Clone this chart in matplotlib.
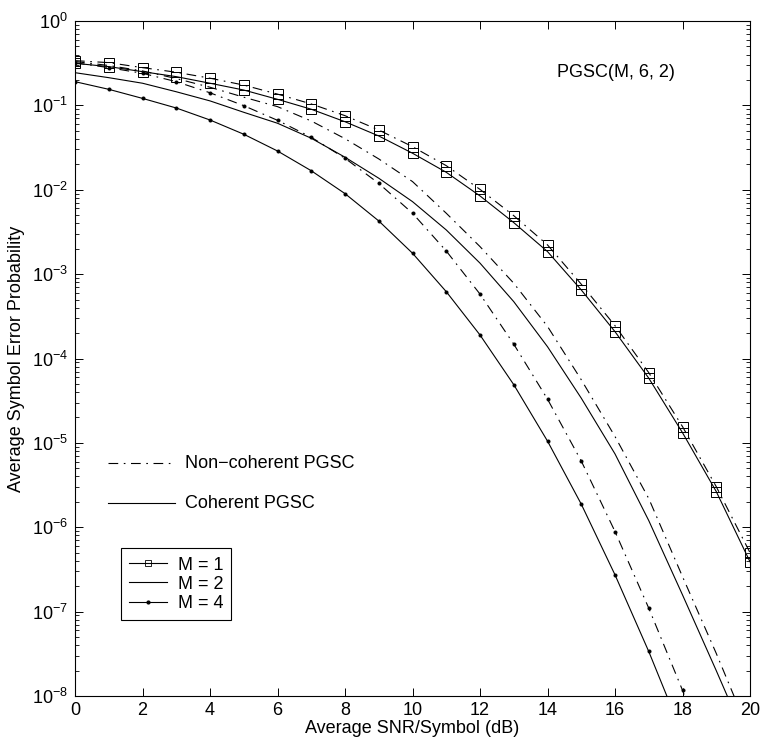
import matplotlib
matplotlib.use("Agg")
import matplotlib.pyplot as plt
from matplotlib.lines import Line2D

plt.rcParams['font.family'] = ['Liberation Sans', 'DejaVu Sans']
plt.rcParams['mathtext.default'] = 'regular'
plt.rcParams['lines.scale_dashes'] = False

# ---------------- data ----------------
snr_db = list(range(21))

pe_m1_coh = [0.315, 0.288, 0.251, 0.219, 0.183, 0.152, 0.118, 0.090, 0.064, 0.0434, 0.0271,
             0.0161, 0.00845, 0.00408, 0.00185, 6.5e-4, 2.08e-4, 5.85e-5, 1.32e-5, 2.65e-6, 3.9e-7]
pe_m1_nc = [0.339, 0.321, 0.280, 0.247, 0.210, 0.174, 0.136, 0.104, 0.0755, 0.0511, 0.0324,
            0.0193, 0.0101, 0.00493, 0.00222, 7.6e-4, 2.45e-4, 6.8e-5, 1.56e-5, 3.03e-6, 5.0e-7]
pe_m2_coh = [0.244, 0.213, 0.183, 0.145, 0.113, 0.0828, 0.0614, 0.0408, 0.0243, 0.0137, 0.00723,
             0.00334, 0.00135, 4.72e-4, 1.38e-4, 3.39e-5, 7.4e-6, 1.2e-6, 1.58e-7, 2.0e-8, 2.4e-9]
pe_m2_nc = [0.331, 0.297, 0.256, 0.208, 0.164, 0.125, 0.0966, 0.0653, 0.0403, 0.0232, 0.0125,
            0.00527, 0.00212, 7.8e-4, 2.4e-4, 5.6e-5, 1.19e-5, 2.19e-6, 2.6e-7, 3.2e-8, 3.5e-9]
pe_m4_coh = [0.191, 0.155, 0.121, 0.0931, 0.0671, 0.0455, 0.0288, 0.0168, 0.0090, 0.00427, 0.00177,
             6.2e-4, 1.9e-4, 4.9e-5, 1.05e-5, 1.88e-6, 2.73e-7, 3.37e-8, 3.5e-9, 3e-10, 2e-11]
pe_m4_nc = [0.32, 0.28, 0.24, 0.191, 0.141, 0.0992, 0.0665, 0.0419, 0.0236, 0.0119, 0.00527,
            0.00188, 5.8e-4, 1.48e-4, 3.3e-5, 6.1e-6, 8.9e-7, 1.1e-7, 1.17e-8, 1.0e-9, 7e-11]

legend_labels = ['M = 1', 'M = 2', 'M = 4']
annot_labels = ['Non\u2212coherent PGSC', 'Coherent PGSC']
title_text = 'PGSC(M, 6, 2)'
xlabel = 'Average SNR/Symbol (dB)'
ylabel = 'Average Symbol Error Probability'

# ---------------- style ----------------
LW = 0.8
DD = (7, 4, 1.2, 4)
FS = 13

fig = plt.figure(figsize=(7.62, 7.48), dpi=100)
ax = fig.add_axes([75/762, 1-696/748, 675/762, 675/748])

def plot(y, dashed, marker, ms, mfc):
    kw = dict(color='black', lw=LW, marker=marker, ms=ms, mfc=mfc, mec='black', mew=0.7)
    ln, = ax.plot(snr_db, y, ls='-', **kw)
    if dashed:
        ln.set_dashes(DD)

plot(pe_m1_nc, True, 's', 6.5, 'none')
plot(pe_m1_coh, False, 's', 6.5, 'none')
plot(pe_m2_nc, True, None, 0, 'none')
plot(pe_m2_coh, False, None, 0, 'none')
plot(pe_m4_nc, True, 'o', 2.2, 'black')
plot(pe_m4_coh, False, 'o', 2.2, 'black')

ax.set_yscale('log')
ax.set_xlim(0, 20)
ax.set_ylim(1e-8, 1)
ax.set_xticks(range(0, 21, 2))
ax.set_yticks([10.0**k for k in range(-8, 1)])
ax.tick_params(which='both', direction='in', top=True, right=True, labelsize=FS)
ax.tick_params(which='major', length=6, width=0.7)
ax.tick_params(which='minor', length=3, width=0.6)
ax.tick_params(axis='x', pad=4)
ax.tick_params(axis='y', pad=5)
for s in ax.spines.values():
    s.set_linewidth(0.8)

ax.set_xlabel(xlabel, fontsize=FS, labelpad=1)
ax.set_ylabel(ylabel, fontsize=FS, labelpad=5)

ax.text(0.714, 0.924, title_text, transform=ax.transAxes, fontsize=FS, va='center', ha='left')

# annotation line samples
y_nc, y_c = (696-463)/675, (696-503)/675
l1 = Line2D([0.049, 0.148], [y_nc, y_nc], transform=ax.transAxes, color='black', lw=LW)
l1.set_dashes(DD)
ax.add_line(l1)
ax.add_line(Line2D([0.049, 0.148], [y_c, y_c], transform=ax.transAxes, color='black', lw=LW))
ax.text(0.163, y_nc, annot_labels[0], transform=ax.transAxes, fontsize=FS, va='center')
ax.text(0.163, y_c, annot_labels[1], transform=ax.transAxes, fontsize=FS, va='center')

handles = [Line2D([], [], color='black', lw=LW, marker='s', ms=5, mfc='none', mew=0.6),
           Line2D([], [], color='black', lw=LW),
           Line2D([], [], color='black', lw=LW, marker='o', ms=2, mfc='black')]
leg = ax.legend(handles, legend_labels, loc='lower left', bbox_to_anchor=(0.068, (696-620)/675),
                borderaxespad=0, fancybox=False, edgecolor='black', fontsize=FS,
                handlelength=2.1, handletextpad=0.6, labelspacing=0.12, borderpad=0.45,
                framealpha=1)
leg.get_frame().set_linewidth(0.8)

fig.savefig('out.png', dpi=100)
